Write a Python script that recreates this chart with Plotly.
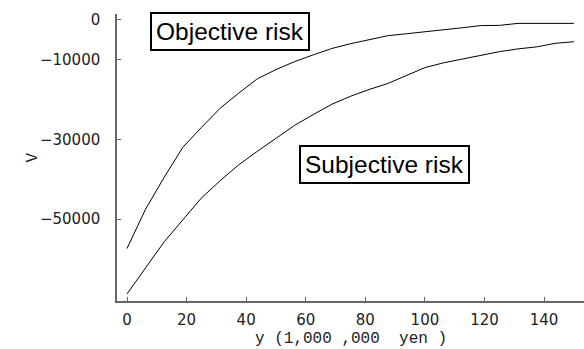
import plotly.graph_objects as go

x_vals = [0, 6.25, 12.5, 18.75, 25, 31.25, 37.5, 43.75, 50, 56.25, 62.5, 68.75, 75,
          81.25, 87.5, 93.75, 100, 106.25, 112.5, 118.75, 125, 131.25, 137.5, 143.75, 150]

objective_risk = [-57400, -47500, -39500, -32000, -27000, -22200, -18400, -14800, -12500,
                  -10500, -8800, -7200, -6000, -5000, -4000, -3500, -3050, -2600, -2000,
                  -1450, -1400, -900, -900, -900, -900]

subjective_risk = [-68800, -62200, -55700, -50200, -44700, -40400, -36400, -33000, -29700,
                   -26500, -23800, -21200, -19200, -17500, -16000, -14000, -12000, -10800,
                   -9900, -8900, -8000, -7300, -6800, -5900, -5500]

y_tickvals = [0, -10000, -30000, -50000]
y_ticktext = ["0", "\u221210000", "\u221230000", "\u221250000"]
x_tickvals = [0, 20, 40, 60, 80, 100, 120, 140]

fig = go.Figure()
fig.add_trace(go.Scatter(x=x_vals, y=objective_risk, mode="lines",
                         line=dict(color="black", width=1), name="Objective risk"))
fig.add_trace(go.Scatter(x=x_vals, y=subjective_risk, mode="lines",
                         line=dict(color="black", width=1), name="Subjective risk"))

axis_common = dict(showgrid=False, zeroline=False, showline=True, linecolor="#666666",
                   linewidth=1.5, ticks="inside", ticklen=4, tickcolor="#666666",
                   tickwidth=1, automargin=False,
                   tickfont=dict(family="DejaVu Sans", size=15, color="#222222"))

fig.update_xaxes(range=[-3.36, 153.4], tickvals=x_tickvals, ticklabelstandoff=4, **axis_common)
fig.update_yaxes(range=[-70580, 1456], tickvals=y_tickvals, ticktext=y_ticktext,
                 ticklabelstandoff=12, **axis_common)

fig.add_annotation(x=0.5, y=0.0, xref="paper", yref="paper", yshift=-38,
                   text="y (1,000 ,000  yen )", showarrow=False, yanchor="middle",
                   font=dict(family="Liberation Mono", size=16, color="#222222"))
fig.add_annotation(x=(21 - 117) / 467, y=0.5, xref="paper", yref="paper",
                   text="V", showarrow=False, textangle=-90,
                   font=dict(family="Liberation Mono", size=16, color="#222222"))

fig.add_annotation(x=34.7, y=-3060, text="Objective risk", showarrow=False,
                   font=dict(family="Liberation Sans", size=24.5, color="black"),
                   bordercolor="black", borderwidth=2, borderpad=4, bgcolor="white")
fig.add_annotation(x=86.4, y=-36320, text="Subjective risk", showarrow=False,
                   font=dict(family="Liberation Sans", size=24.5, color="black"),
                   bordercolor="black", borderwidth=2, borderpad=4, bgcolor="white")

fig.update_layout(width=584, height=349, margin=dict(l=117, r=0, t=14, b=48),
                  plot_bgcolor="white", paper_bgcolor="white", showlegend=False)

fig.write_html("out.html", config={"displayModeBar": False},
               post_script="document.body.style.margin='0';document.body.style.overflow='hidden';")
